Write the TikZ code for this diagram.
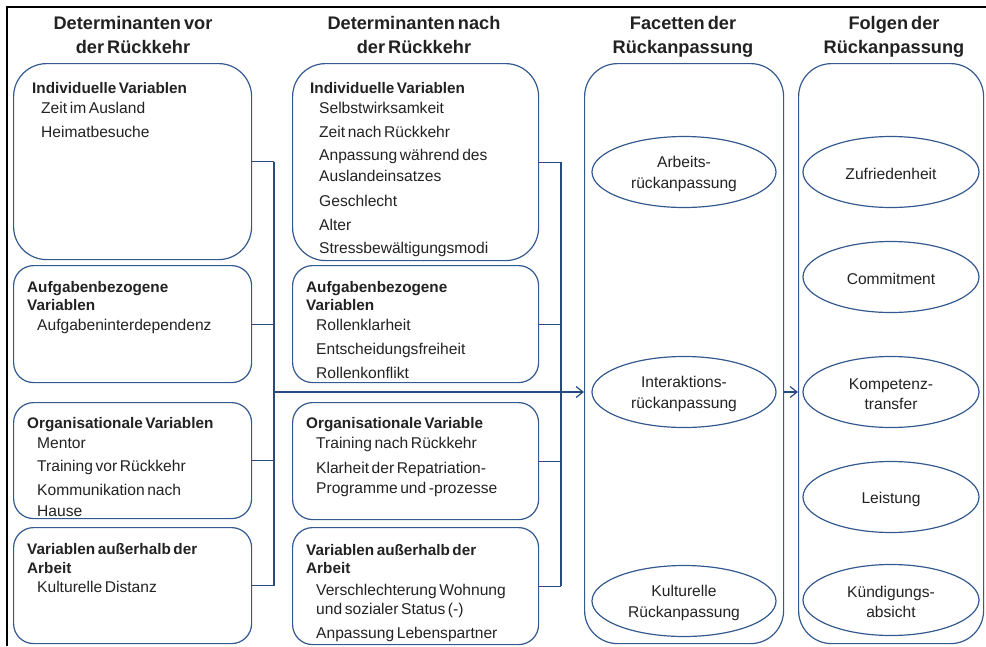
\documentclass[tikz,border=0pt]{standalone}
\usepackage{fontspec}
\setmainfont{Liberation Sans}[WordSpace=0.6]
\usetikzlibrary{arrows.meta,shapes.geometric}
\definecolor{boxc}{HTML}{34598F}
\definecolor{linec}{HTML}{284A82}
\definecolor{txt}{HTML}{222222}
\tikzset{
 frame/.style={draw=black, line width=1.4pt},
 bigbox/.style={draw=boxc, line width=1.2pt, rounded corners=33pt, anchor=north west, inner sep=0pt},
 smallbox/.style={draw=boxc, line width=1.2pt, rounded corners=20pt, anchor=north west, inner sep=0pt},
 hd/.style={font=\fontsize{18.2}{22}\selectfont\bfseries, text=txt, anchor=base, inner sep=0pt},
 ttl/.style={font=\fontsize{15.3}{18}\selectfont\bfseries, text=txt, anchor=base west, inner sep=0pt},
 itm/.style={font=\fontsize{15.6}{18}\selectfont, text=txt, anchor=base west, inner sep=0pt},
 ellf/.style={draw=boxc, line width=1.2pt, ellipse, minimum width=184pt, minimum height=71pt, inner sep=0pt},
 ellg/.style={ellf, minimum width=176pt},
 etx/.style={inner sep=0pt, align=center, font=\fontsize{15.6}{20.5}\selectfont, text=txt},
 conn/.style={draw=linec, line width=1.2pt},
 arr/.style={conn, -{Straight Barb[length=7pt,width=11pt]}}
}
\begin{document}
\begin{tikzpicture}[x=1pt,y=-1pt]
\useasboundingbox (0,0) rectangle (986,646);
% frame
\draw[frame] (7,646) -- (7,7) -- (986,7);
% headings
\node[hd] (h1a) at (133,29.5) {Determinanten vor};
\node[hd] (h1b) at (133,53.5) {der Rückkehr};
\node[hd] (h2a) at (414,29.5) {Determinanten nach};
\node[hd] (h2b) at (414,53.5) {der Rückkehr};
\node[hd] (h3a) at (683,29.5) {Facetten der};
\node[hd] (h3b) at (683,53.5) {Rückanpassung};
\node[hd] (h4a) at (894,29.5) {Folgen der};
\node[hd] (h4b) at (894,53.5) {Rückanpassung};
% column 1 boxes
\node[bigbox, minimum width=238pt, minimum height=196pt] (a1) at (13,63) {};
\node[smallbox, minimum width=238pt, minimum height=117pt] (a2) at (13,265) {};
\node[smallbox, minimum width=238pt, minimum height=116pt] (a3) at (13,402) {};
\node[smallbox, minimum width=238pt, minimum height=116pt] (a4) at (13,527) {};
% column 2 boxes
\node[bigbox, minimum width=246pt, minimum height=197pt] (b1) at (292,63) {};
\node[smallbox, minimum width=246pt, minimum height=117pt] (b2) at (292,265) {};
\node[smallbox, minimum width=246pt, minimum height=117pt] (b3) at (292,402) {};
\node[smallbox, minimum width=246pt, minimum height=117pt] (b4) at (292,527) {};
% facets and consequences
\node[bigbox, minimum width=199pt, minimum height=580pt] (F) at (584,63) {};
\node[bigbox, minimum width=185pt, minimum height=580pt] (G) at (798,63) {};
% column 1 texts
\node[ttl] (t11) at (32,93.5) {Individuelle Variablen};
\node[itm] (t12) at (41,113.5) {Zeit im Ausland};
\node[itm] (t13) at (41,137) {Heimatbesuche};
\node[ttl] (t21) at (27,292.5) {Aufgabenbezogene};
\node[ttl] (t22) at (27,310.5) {Variablen};
\node[itm] (t23) at (37,330.5) {Aufgabeninterdependenz};
\node[ttl] (t31) at (27,428.5) {Organisationale Variablen};
\node[itm] (t32) at (37,448.5) {Mentor};
\node[itm] (t33) at (37,471.5) {Training vor Rückkehr};
\node[itm] (t34) at (37,495.5) {Kommunikation nach};
\node[itm] (t35) at (37,516.5) {Hause};
\node[ttl] (t41) at (27,554.5) {Variablen außerhalb der};
\node[ttl] (t42) at (27,573.5) {Arbeit};
\node[itm] (t43) at (37,592.5) {Kulturelle Distanz};
% column 2 texts
\node[ttl] (u11) at (310,93.5) {Individuelle Variablen};
\node[itm] (u12) at (319,113.5) {Selbstwirksamkeit};
\node[itm] (u13) at (319,137.5) {Zeit nach Rückkehr};
\node[itm] (u14) at (319,160.5) {Anpassung während des};
\node[itm] (u15) at (319,181.5) {Auslandeinsatzes};
\node[itm] (u16) at (319,206.5) {Geschlecht};
\node[itm] (u17) at (319,230.5) {Alter};
\node[itm] (u18) at (319,253.5) {Stressbewältigungsmodi};
\node[ttl] (u21) at (306,292.5) {Aufgabenbezogene};
\node[ttl] (u22) at (306,310.5) {Variablen};
\node[itm] (u23) at (316,330.5) {Rollenklarheit};
\node[itm] (u24) at (316,354.5) {Entscheidungsfreiheit};
\node[itm] (u25) at (316,378.5) {Rollenkonflikt};
\node[ttl] (u31) at (306,428.5) {Organisationale Variable};
\node[itm] (u32) at (316,448.5) {Training nach Rückkehr};
\node[itm] (u33) at (316,473.5) {Klarheit der Repatriation-};
\node[itm] (u34) at (316,493.5) {Programme und -prozesse};
\node[ttl] (u41) at (306,555.5) {Variablen außerhalb der};
\node[ttl] (u42) at (306,573.5) {Arbeit};
\node[itm] (u43) at (316,595.5) {Verschlechterung Wohnung};
\node[itm] (u44) at (316,614.5) {und sozialer Status (-)};
\node[itm] (u45) at (316,638.5) {Anpassung Lebenspartner};
% ellipses
\node[ellf] (f1) at (684,172) {};
\node[ellf] (f2) at (684,392) {};
\node[ellf] (f3) at (684,601) {};
\node[ellg] (g1) at (891,172) {};
\node[ellg] (g2) at (891,277) {};
\node[ellg] (g3) at (891,392) {};
\node[ellg] (g4) at (891,497) {};
\node[ellg] (g5) at (891,600) {};
\node[etx] (f1t) at ([yshift=-2pt]f1.center) {Arbeits-\\rückanpassung};
\node[etx] (f2t) at ([yshift=-2pt]f2.center) {Interaktions-\\rückanpassung};
\node[etx] (f3t) at ([yshift=-2pt]f3.center) {Kulturelle\\Rückanpassung};
\node[etx] (g1t) at ([yshift=-2pt]g1.center) {Zufriedenheit};
\node[etx] (g2t) at ([yshift=-2pt]g2.center) {Commitment};
\node[etx] (g3t) at ([yshift=-2pt]g3.center) {Kompetenz-\\transfer};
\node[etx] (g4t) at ([yshift=-2pt]g4.center) {Leistung};
\node[etx] (g5t) at ([yshift=-2pt]g5.center) {Kündigungs-\\absicht};
% connectors
\coordinate (ja) at (274,392);
\coordinate (jb) at (561,392);
\draw[conn] (a1.east) -- (a1.east -| ja);
\draw[conn] (a2.east) -- (a2.east -| ja);
\draw[conn] (a3.east) -- (a3.east -| ja);
\draw[conn] (a4.east) -- (a4.east -| ja);
\draw[conn] (a1.east -| ja) -- (a4.east -| ja);
\draw[conn] (b1.east) -- (b1.east -| jb);
\draw[conn] (b2.east) -- (b2.east -| jb);
\draw[conn] (b3.east) -- (b3.east -| jb);
\draw[conn] (b4.east) -- (b4.east -| jb);
\draw[conn] (b1.east -| jb) -- (b4.east -| jb);
\draw[arr] (ja) -- (F.west |- f2);
\draw[arr] (F.east |- f2) -- (G.west |- f2);
\end{tikzpicture}
\end{document}
